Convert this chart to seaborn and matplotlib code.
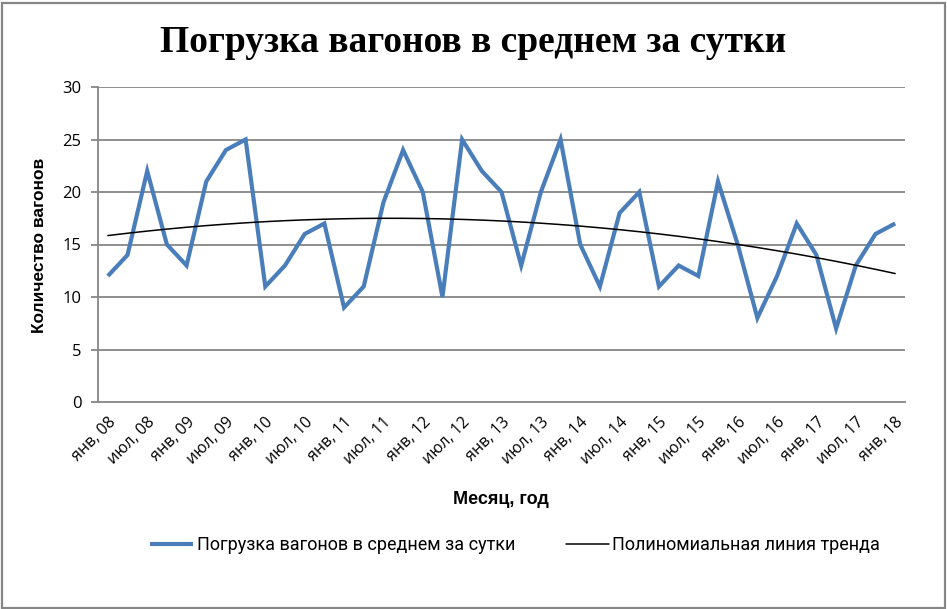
import numpy as np
import pandas as pd
import matplotlib
matplotlib.use("Agg")
import matplotlib.pyplot as plt
import seaborn as sns
from matplotlib.patches import Rectangle

# ---- data ----
quarters = ["янв", "апр", "июл", "окт"]
years = ["08", "09", "10", "11", "12", "13", "14", "15", "16", "17", "18"]
periods = [f"{q}, {y}" for y in years for q in quarters][:41]
values = [12, 14, 22, 15, 13, 21, 24, 25, 11, 13, 16, 17, 9, 11, 19, 24, 20, 10,
          25, 22, 20, 13, 20, 25, 15, 11, 18, 20, 11, 13, 12, 21, 15, 8, 12, 17,
          14, 7, 13, 16, 17]
series_name = "Погрузка вагонов в среднем за сутки"
trend_name = "Полиномиальная линия тренда"
title = "Погрузка вагонов в среднем за сутки"
xlabel = "Месяц, год"
ylabel = "Количество вагонов"
yticks = [0, 5, 10, 15, 20, 25, 30]

idx = np.arange(len(values))
coef = np.polyfit(idx, values, 2)
trend = np.polyval(coef, idx)
df = pd.DataFrame({"idx": idx, "value": values, "trend": trend, "label": periods})

sns.set_theme(style="white")
plt.rcParams["font.family"] = ["Open Sans", "DejaVu Sans"]
plt.rcParams["text.color"] = "black"

fig = plt.figure(figsize=(9.47, 6.09), dpi=100)
ax = fig.add_axes([98/947, 1-402/609, (905-98)/947, (402-87)/609])

blue = "#4A7EBB"
grid = "#868686"

sns.lineplot(data=df, x="idx", y="value", ax=ax, color=blue, lw=3.0,
             label=series_name, solid_joinstyle="miter", solid_capstyle="butt")
sns.lineplot(data=df, x="idx", y="trend", ax=ax, color="black", lw=1.1,
             label=trend_name)

ax.set_xlim(-0.5, len(values) - 0.5)
ax.set_ylim(0, 30)
ax.set_yticks(yticks)
ax.set_yticklabels([str(t) for t in yticks], fontsize=12, color="black")
for t in yticks[1:]:
    ax.axhline(t, color=grid, lw=1.3, zorder=0)

ax.set_xticks(idx[::2])
ax.set_xticklabels(df["label"][::2], rotation=45, ha="right",
                   rotation_mode="anchor", fontsize=11.5, color="black")
ax.tick_params(axis="x", length=0, pad=9)
ax.tick_params(axis="y", length=5, width=1.3, color=grid, pad=7, left=True)

for s in ["top", "right"]:
    ax.spines[s].set_visible(False)
for s in ["left", "bottom"]:
    ax.spines[s].set_color(grid)
    ax.spines[s].set_linewidth(1.3)

ax.set_xlabel("")
ax.set_ylabel("")
fig.text(40/947, 1-245/609, ylabel, rotation=90, ha="center", va="center", color="black",
         fontsize=12.5, fontweight="bold", family=["Liberation Sans", "DejaVu Sans"])
fig.text(501/947, 1-500/609, xlabel, ha="center", va="center", color="black",
         fontsize=13, fontweight="bold", family=["Liberation Sans", "DejaVu Sans"])
fig.text(473/947, 1-42/609, title, ha="center", va="center", color="black",
         fontsize=27, fontweight="bold", family=["Liberation Serif", "DejaVu Serif"])

ax.legend_.remove()
handles, labels = ax.get_legend_handles_labels()
leg = fig.legend(handles, labels, loc="center", bbox_to_anchor=(515/947, 1-545/609),
                 ncol=2, frameon=False, handlelength=2.4,
                 handletextpad=0.2, columnspacing=2.8,
                 prop={"family": ["Roboto", "Open Sans"], "size": 13})
for t in leg.get_texts():
    t.set_color("black")

fig.patches.append(Rectangle((1.5/947, 1.5/609), 943/947, 605/609,
                             transform=fig.transFigure, fill=False,
                             edgecolor=grid, lw=1.6))

fig.savefig("out.png", dpi=100)
